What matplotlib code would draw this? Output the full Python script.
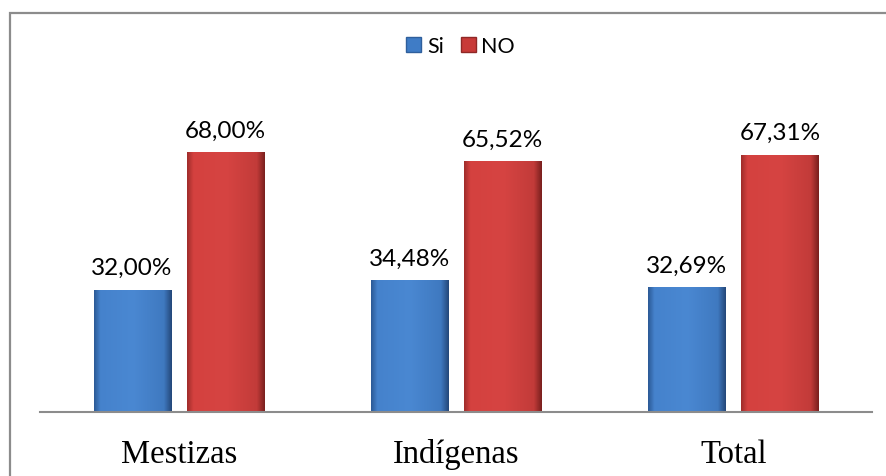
import numpy as np
import matplotlib.pyplot as plt
from matplotlib.patches import Rectangle
from matplotlib.colors import LinearSegmentedColormap

categorias = ["Mestizas", "Indígenas", "Total"]
si_vals = [32.00, 34.48, 32.69]
no_vals = [68.00, 65.52, 67.31]
si_labels = ["32,00%", "34,48%", "32,69%"]
no_labels = ["68,00%", "65,52%", "67,31%"]

fig = plt.figure(figsize=(8.86, 4.77), dpi=100)
ax = fig.add_axes([40/886, 64/477, 832/886, 306/477])

x = np.arange(len(categorias))
w = 0.278
off = 0.168

# shaded look like the excel bevel (flat middle, dark sides)
cm_si = LinearSegmentedColormap.from_list(
    "si", [(0, "#2c5a96"), (0.08, "#4582cc"), (0.5, "#4a88d2"), (0.9, "#3f79c0"), (1, "#24487a")])
cm_no = LinearSegmentedColormap.from_list(
    "no", [(0, "#a02d2b"), (0.08, "#d4413f"), (0.5, "#d64442"), (0.9, "#c23b39"), (1, "#7a201e")])

grad = np.linspace(0, 1, 200).reshape(1, -1)

def draw(xs, vals, cmap, labels):
    bars = ax.bar(xs, vals, width=w, color="none", edgecolor="none")
    for b, lab in zip(bars, labels):
        x0, y0 = b.get_x(), b.get_y()
        im = ax.imshow(grad, cmap=cmap, aspect="auto",
                       extent=[x0, x0 + b.get_width(), y0, y0 + b.get_height()], zorder=2)
        im.set_clip_path(b)
        ax.text(b.get_x() + b.get_width()/2, b.get_height() + 3.0, lab,
                ha="center", va="bottom", fontsize=17.5, family="Lato")
    return bars

draw(x - off, si_vals, cm_si, si_labels)
draw(x + off, no_vals, cm_no, no_labels)

ax.set_xlim(-0.5, 2.5)
ax.set_ylim(0, 80)
ax.set_xticks(x)
ax.set_xticklabels(categorias, family="Liberation Serif", fontsize=23.5)
ax.tick_params(axis="x", length=0, pad=19)
ax.set_yticks([])
for s in ["top", "right", "left"]:
    ax.spines[s].set_visible(False)
ax.spines["bottom"].set_color("#8c8c8c")
ax.spines["bottom"].set_linewidth(1.5)

# legend
hs = [Rectangle((0, 0), 1, 1, facecolor="#3f7cc6", edgecolor="#2f5f9c"),
      Rectangle((0, 0), 1, 1, facecolor="#c83a38", edgecolor="#8f2826")]
fig.legend(hs, ["Si", "NO"], loc="center", bbox_to_anchor=(0.52, 1 - 47/477),
           ncol=2, frameon=False, prop={"family": "Lato", "size": 15.5},
           handlelength=0.7, handleheight=0.7, handletextpad=0.25, columnspacing=0.8)

# outer frame
fig.patches.append(Rectangle((10/886, -0.1), 1.2, 1 - 14/477 + 0.1, transform=fig.transFigure,
                             fill=False, edgecolor="#8c8c8c", linewidth=1.6))

fig.savefig("out.png", dpi=100)
